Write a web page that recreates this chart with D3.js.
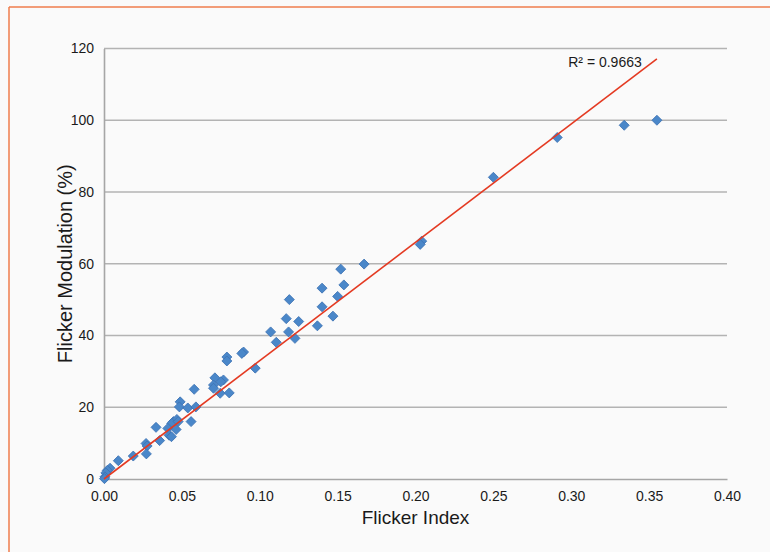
<!DOCTYPE html>
<html>
<head>
<meta charset="utf-8">
<script src="https://cdn.jsdelivr.net/npm/d3@7"></script>
<style>
  html, body { margin: 0; padding: 0; background: #fafafa; }
  svg { display: block; }
  text { font-family: "Liberation Sans", Arial, Helvetica, sans-serif; fill: #1a1a1a; }
</style>
</head>
<body>
<svg id="chart" width="770" height="552"></svg>
<script>
// ---- data ----
const flickerIndex = [
  0.355, 0.334, 0.291, 0.250, 0.204, 0.203, 0.167, 0.152, 0.154, 0.140,
  0.150, 0.119, 0.140, 0.147, 0.117, 0.125, 0.137, 0.107, 0.1185, 0.1226,
  0.1106, 0.0896, 0.0885, 0.0789, 0.0789, 0.0971, 0.0712, 0.0767, 0.0750, 0.0703,
  0.0703, 0.0746, 0.0804, 0.0579, 0.0489, 0.0484, 0.0538, 0.0590, 0.0559, 0.0446,
  0.0468, 0.0435, 0.0334, 0.0410, 0.0463, 0.0418, 0.0433, 0.0357, 0.0270, 0.0277,
  0.0272, 0.0188, 0.0092, 0.0039, 0.0021, 0.0012, 0.0006, 0.0003, 0.0476
];
const flickerModulation = [
  100.0, 98.6, 95.2, 84.1, 66.3, 65.4, 59.9, 58.5, 54.1, 53.2,
  50.9, 50.0, 48.0, 45.4, 44.7, 43.9, 42.7, 41.0, 41.0, 39.2,
  38.1, 35.4, 35.0, 34.0, 32.9, 30.9, 28.2, 27.6, 27.1, 26.2,
  25.3, 23.9, 24.0, 25.0, 21.5, 20.1, 19.8, 20.1, 16.0, 16.0,
  16.6, 15.5, 14.4, 14.1, 13.8, 12.2, 11.8, 10.7, 9.9, 9.2,
  7.0, 6.4, 5.1, 3.0, 2.4, 1.7, 0.6, 0.1, 16.0
];
const trendX = [0, 0.355];
const trendY = [0, 117.1];
const xTicks = [0, 0.05, 0.10, 0.15, 0.20, 0.25, 0.30, 0.35, 0.40];
const yTicks = [0, 20, 40, 60, 80, 100, 120];
const rSquaredLabel = "R² = 0.9663";
const xTitle = "Flicker Index";
const yTitle = "Flicker Modulation (%)";

// ---- drawing ----
(function () {
const svg = d3.select("#chart");
const W = 770, H = 552;
const mLeft = 104, mRight = 727, mTop = 48.5, mBottom = 479;

svg.append("rect").attr("width", W).attr("height", H).attr("fill", "#fafafa");
// orange frame (top + left)
svg.append("line").attr("x1", 9).attr("x2", W).attr("y1", 7).attr("y2", 7)
  .attr("stroke", "#ef7d4c").attr("stroke-width", 1.5);
svg.append("line").attr("x1", 9).attr("x2", 9).attr("y1", 7).attr("y2", H)
  .attr("stroke", "#ef7d4c").attr("stroke-width", 1.5);

const x = d3.scaleLinear().domain([0, 0.40]).range([mLeft, mRight]);
const y = d3.scaleLinear().domain([0, 120]).range([mBottom, mTop]);

// gridlines
svg.append("g").selectAll("line").data(yTicks.filter(d => d > 0)).join("line")
  .attr("x1", mLeft).attr("x2", mRight)
  .attr("y1", d => y(d)).attr("y2", d => y(d))
  .attr("stroke", "#b3b3b3").attr("stroke-width", 1.6);

// axes
const xAxis = svg.append("g").attr("transform", `translate(0,${mBottom})`)
  .call(d3.axisBottom(x).tickValues(xTicks).tickFormat(d3.format(".2f")).tickSize(0).tickPadding(12));
const yAxis = svg.append("g").attr("transform", `translate(${mLeft},0)`)
  .call(d3.axisLeft(y).tickValues(yTicks).tickFormat(d3.format("d")).tickSize(0).tickPadding(10));
[xAxis, yAxis].forEach(a => {
  a.select(".domain").attr("stroke", "#a6a6a6").attr("stroke-width", 1.6);
  a.selectAll("text").attr("font-size", 14).attr("fill", "#1a1a1a")
    .attr("font-family", '"Liberation Sans", Arial, sans-serif');
});

// points
const pts = flickerIndex.map((v, i) => ({ x: v, y: flickerModulation[i] }));
const diamond = d3.symbol().type(d3.symbolSquare).size(50);
svg.append("g").selectAll("path").data(pts).join("path")
  .attr("d", diamond)
  .attr("transform", d => `translate(${x(d.x)},${y(d.y)}) rotate(45)`)
  .attr("fill", "#4a87c9").attr("stroke", "#3d72b3").attr("stroke-width", 0.8);

// trend line
svg.append("line")
  .attr("x1", x(trendX[0])).attr("y1", y(trendY[0]))
  .attr("x2", x(trendX[1])).attr("y2", y(trendY[1]))
  .attr("stroke", "#e43a22").attr("stroke-width", 1.6);

// R² label
svg.append("text").attr("x", 605).attr("y", 66.5).attr("text-anchor", "middle")
  .attr("font-size", 14).text(rSquaredLabel);

// titles
svg.append("text").attr("x", (mLeft + mRight) / 2).attr("y", 524).attr("text-anchor", "middle")
  .attr("font-size", 19).text(xTitle);
svg.append("text").attr("transform", `translate(72,${(mTop + mBottom) / 2}) rotate(-90)`)
  .attr("text-anchor", "middle").attr("font-size", 20).text(yTitle);
})();
</script>
</body>
</html>
